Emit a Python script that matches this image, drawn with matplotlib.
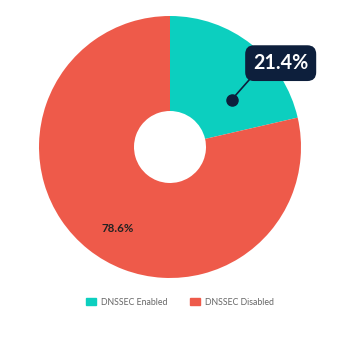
import matplotlib
matplotlib.use("Agg")
import matplotlib.pyplot as plt
import numpy as np

labels = ["DNSSEC Enabled", "DNSSEC Disabled"]
values = [21.4, 78.6]
colors = ["#0ccfbf", "#ee5a4a"]

plt.rcParams["font.family"] = ["Lato", "DejaVu Sans"]

fig = plt.figure(figsize=(3.4, 3.44), dpi=100)
ax = fig.add_axes([0.1147, 0.1919, 0.7706, 0.7616])

wedges, _ = ax.pie(values, colors=colors, startangle=90, counterclock=False,
                   radius=1.0, wedgeprops=dict(width=1 - 36 / 131, linewidth=0))
ax.set_xlim(-1, 1)
ax.set_ylim(-1, 1)
ax.set_aspect("equal")

# label for the big slice
ax.text(-0.40, -0.62, "%.1f%%" % values[1],
        ha="center", va="center", fontsize=8.3, fontweight="bold", color="#222222")

# callout for the small slice
ax.plot([0.47, 0.62], [0.36, 0.53], color="#0d1f3c", lw=1.2, zorder=3)
ax.plot(0.47, 0.36, "o", color="#0d1f3c", ms=8, zorder=4)
ax.text(0.845, 0.64, "%.1f%%" % values[0], ha="center", va="center",
        fontsize=14.2, fontweight="bold", color="white", zorder=5,
        bbox=dict(boxstyle="round,pad=0.4,rounding_size=0.45", fc="#0d1f3c", ec="none"))

handles = [plt.Rectangle((0, 0), 1, 1, color=c) for c in colors]
fig.legend(handles, labels, loc="center", bbox_to_anchor=(0.528, 0.122), ncol=2,
           frameon=False, fontsize=6.3, handlelength=1.15, handleheight=1.0,
           columnspacing=2.6, handletextpad=0.55, labelcolor="#666666")

fig.savefig("out.png", dpi=100)
